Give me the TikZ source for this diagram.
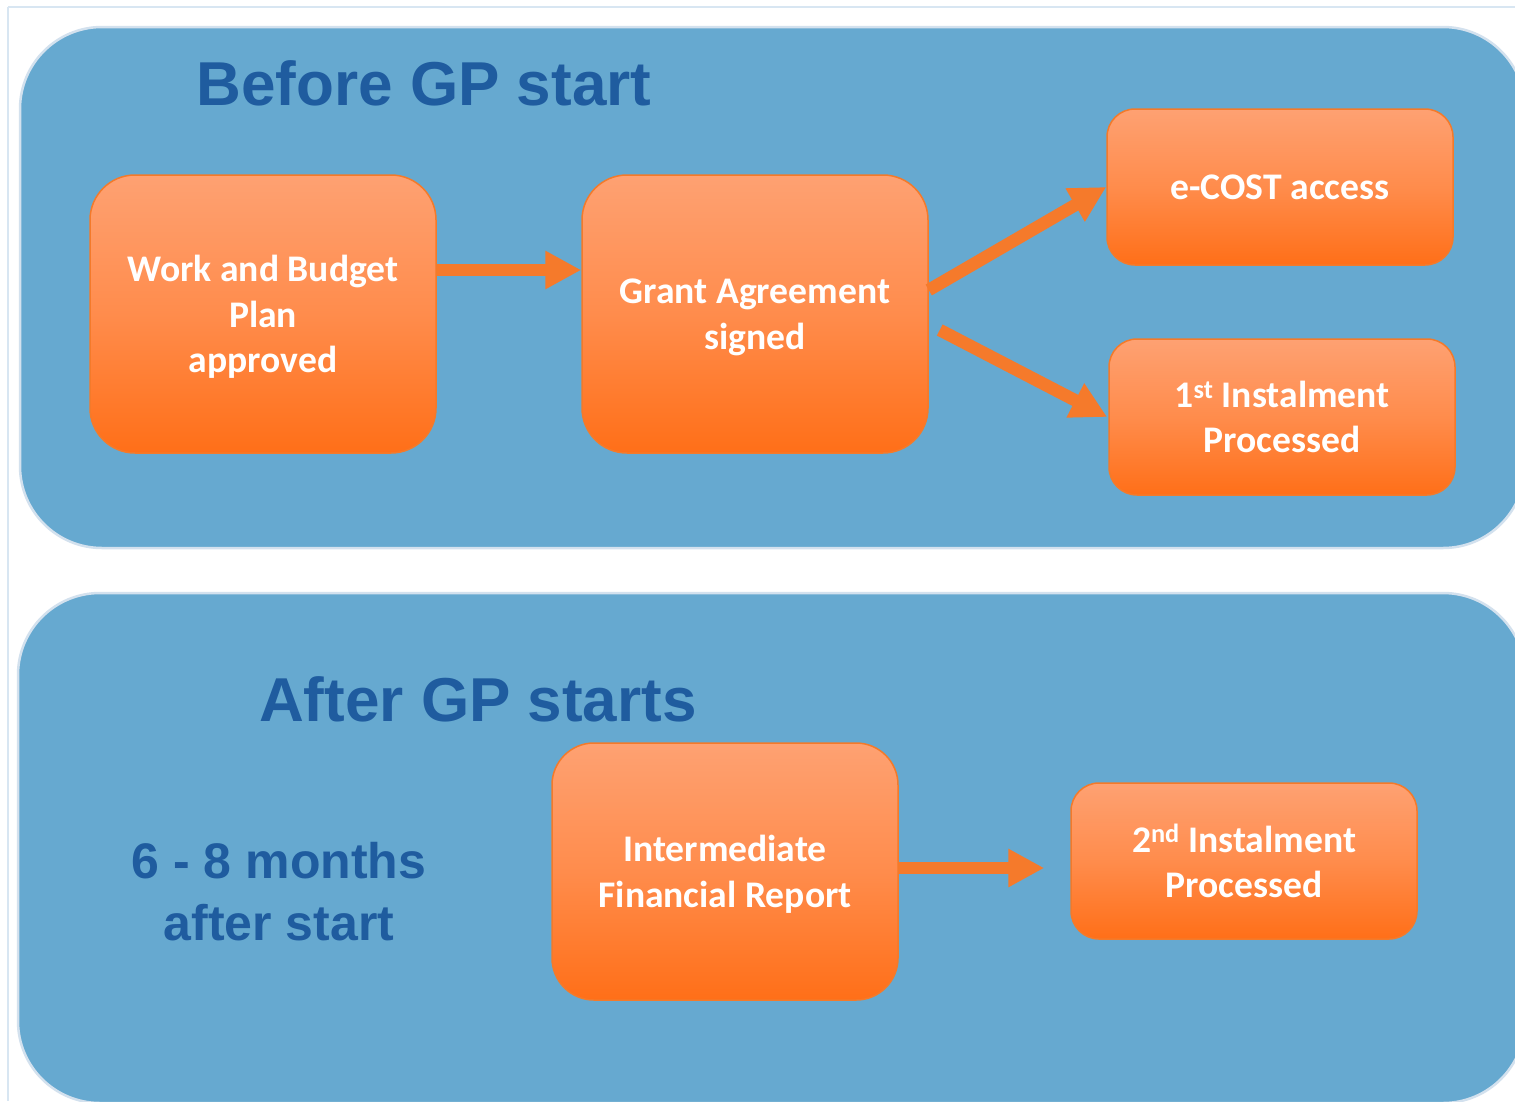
\documentclass[tikz,border=0pt]{standalone}
\usepackage{fontspec}
\newfontfamily\boxfont{Carlito}
\newfontfamily\headfont{Liberation Sans}
\usetikzlibrary{arrows.meta}
\definecolor{panelblue}{RGB}{102,169,208}
\definecolor{panelborder}{RGB}{211,225,238}
\definecolor{framecol}{RGB}{216,230,242}
\definecolor{titleblue}{RGB}{31,92,159}
\definecolor{arrowor}{RGB}{245,122,43}
\definecolor{boxedge}{RGB}{244,122,42}
\definecolor{boxtop}{RGB}{254,161,114}
\definecolor{boxmid}{RGB}{255,140,76}
\definecolor{boxbot}{RGB}{255,111,24}
\begin{document}
\begin{tikzpicture}[x=1pt,y=-1pt,
  panel/.style={fill=panelblue, draw=panelborder, line width=2.5pt, rounded corners=82pt},
  framestyle/.style={draw=framecol, line width=2pt},
  stepbox/.style={draw=boxedge, line width=1.5pt, top color=boxtop, bottom color=boxbot, middle color=boxmid,
    minimum width=346pt, inner sep=0pt, text=white, text depth=0pt,
    font=\boxfont\bfseries\fontsize{37.6}{45.5}\selectfont, align=center},
  bigbox/.style={stepbox, rounded corners=45pt, minimum height=278pt},
  smallbox/.style={stepbox, rounded corners=28pt, minimum height=156pt},
  flow/.style={draw=arrowor, line width=12.5pt, -{Triangle[length=36pt,width=36pt]}},
  heading/.style={text=titleblue, font=\headfont\bfseries\fontsize{62}{70}\selectfont, inner sep=0pt, anchor=base},
  sidetext/.style={text=titleblue, font=\headfont\bfseries\fontsize{50}{63}\selectfont, inner sep=0pt, anchor=base}
]
\clip (0,0) rectangle (1515,1101);
\fill[white] (0,0) rectangle (1515,1101);
\draw[framestyle] (8,7) -- (1515,7);
\draw[framestyle] (8,7) -- (8,1101);
\draw[panel] (20,27) rectangle (1525,548);
\draw[panel] (18,593) rectangle (1525,1103);

\node[heading] (t1) at (424,105) {Before GP start};
\node[heading] (t2) at (478,721) {After GP starts};
\node[sidetext] (s1) at (279,878) {6 - 8 months};
\node[sidetext] (s2) at (279,940) {after start};

\node[bigbox] (b1) at (263,314) {Work and Budget\\Plan\\approved};
\node[bigbox] (b2) at (755,314) {Grant Agreement\\signed};
\node[smallbox] (b3) at (1280,187) {e-COST access};
\node[smallbox] (b4) at (1282,417) {1\textsuperscript{st} Instalment\\Processed};
\node[stepbox, rounded corners=42pt, minimum height=257pt] (b5) at (725,871.5) {Intermediate\\Financial Report};
\node[smallbox] (b6) at (1244,861) {2\textsuperscript{nd} Instalment\\Processed};

\draw[flow] ([yshift=44pt]b1.east) -- ([yshift=44pt]b2.west);
\draw[flow] ([yshift=24pt]b2.east) -- (b3.west);
\draw[flow] ([shift={(11pt,-16pt)}]b2.east) -- ([xshift=-1pt]b4.west);
\draw[flow] ([yshift=3.5pt]b5.east) -- ([xshift=-26pt,yshift=-7pt]b6.west);
\end{tikzpicture}
\end{document}
